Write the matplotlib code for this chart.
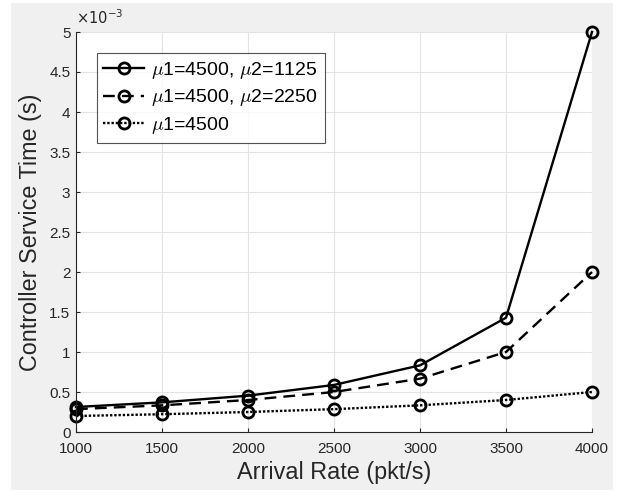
import matplotlib
matplotlib.use("Agg")
import matplotlib.pyplot as plt
from matplotlib.ticker import FuncFormatter, MultipleLocator
from matplotlib.patches import Rectangle

plt.rcParams['font.family'] = ['Liberation Sans', 'DejaVu Sans']
plt.rcParams['mathtext.fontset'] = 'cm'

arrival = [1000, 1500, 2000, 2500, 3000, 3500, 4000]
t_mu2_1125 = [0.3125e-3, 0.3704e-3, 0.4545e-3, 0.5882e-3, 0.8333e-3, 1.4286e-3, 5.0e-3]
t_mu2_2250 = [0.2857e-3, 0.3333e-3, 0.4000e-3, 0.5000e-3, 0.6667e-3, 1.0000e-3, 2.0e-3]
t_mu1 = [0.2000e-3, 0.2222e-3, 0.2500e-3, 0.2857e-3, 0.3333e-3, 0.4000e-3, 0.5e-3]
labels = ['$\\mu$1=4500, $\\mu$2=1125', '$\\mu$1=4500, $\\mu$2=2250', '$\\mu$1=4500']

fig = plt.figure(figsize=(6.17, 4.93), dpi=100, facecolor='white')
fig.patches.append(Rectangle((11/617, 3/493), (613-11)/617, (490-3)/493,
                             transform=fig.transFigure, facecolor='#f0f0f0',
                             edgecolor='none', zorder=-10))
ax = fig.add_axes([76/617, (493-432)/493, (592-76)/617, (432-32)/493])
ax.set_facecolor('white')

common = dict(color='black', marker='o', markersize=8, markerfacecolor='none',
              markeredgewidth=2, linewidth=1.7, clip_on=False)
ax.plot(arrival, t_mu2_1125, linestyle='-', label=labels[0], **common)
ax.plot(arrival, t_mu2_2250, linestyle=(0, (5, 3)), label=labels[1], **common)
ax.plot(arrival, t_mu1, linestyle=(0, (1, 0.8)), label=labels[2], **common)

ax.set_xlim(1000, 4000)
ax.set_ylim(0, 5e-3)
ax.xaxis.set_major_locator(MultipleLocator(500))
ax.yaxis.set_major_locator(MultipleLocator(0.5e-3))
ax.yaxis.set_major_formatter(FuncFormatter(lambda v, p: f"{v*1e3:g}"))
ax.grid(True, color='#e3e3e3', linewidth=0.8)
ax.set_axisbelow(True)
for s in ['top', 'right']:
    ax.spines[s].set_visible(False)
for s in ['left', 'bottom']:
    ax.spines[s].set_color('#262626')
    ax.spines[s].set_linewidth(0.8)
ax.tick_params(direction='in', length=3, labelsize=11, colors='#262626',
               labelcolor='#262626')
ax.tick_params(axis='x', pad=7.5)
ax.tick_params(axis='y', pad=4)

ax.text(0.0, 1.012, '$\\times10^{-3}$', transform=ax.transAxes, fontsize=10.5,
        color='#262626', ha='left', va='bottom',
        math_fontfamily='dejavusans')

ax.set_xlabel('Arrival Rate (pkt/s)', fontsize=16.8, color='#262626', labelpad=3)
ax.set_ylabel('Controller Service Time (s)', fontsize=16.8, color='#262626', labelpad=5)

leg = ax.legend(loc='upper left', bbox_to_anchor=(0.04, 0.948), fontsize=14,
                frameon=True, fancybox=False, edgecolor='#262626',
                handlelength=2.1, handletextpad=0.35, borderpad=0.35,
                labelspacing=0.35, borderaxespad=0)
leg.get_frame().set_linewidth(0.8)

fig.savefig('out.png', dpi=100, facecolor='white')
